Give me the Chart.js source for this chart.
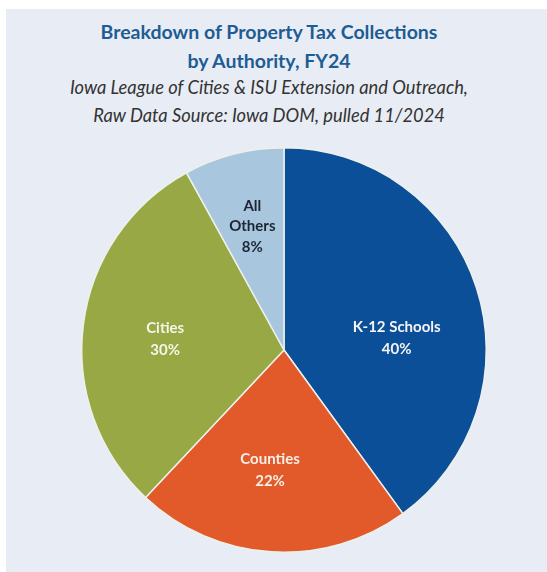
<!DOCTYPE html>
<html>
<head>
<meta charset="utf-8">
<script src="https://cdn.jsdelivr.net/npm/chart.js@4.4.1/dist/chart.umd.min.js"></script>
<style>
  html, body { margin: 0; padding: 0; background: #ffffff; }
  #panel {
    position: absolute; left: 6px; top: 9px; width: 541px; height: 563px;
    background: #e8edf5;
  }
  .head {
    position: absolute; left: 0; width: 538px; text-align: center;
    font-family: Lato, sans-serif; white-space: nowrap;
  }
  .title { color: #1e5c93; font-weight: bold; font-size: 19.5px; }
  .sub { color: #333333; font-style: italic; font-size: 18.3px; }
  #wrap { position: absolute; left: 0; top: 0; width: 547px; height: 572px; }
</style>
</head>
<body>
<div id="panel"></div>
<div class="head title" style="top:20px">Breakdown of Property Tax Collections</div>
<div class="head title" style="top:49px">by Authority, FY24</div>
<div class="head sub" style="top:76px">Iowa League of Cities &amp; ISU Extension and Outreach,</div>
<div class="head sub" style="top:104px">Raw Data Source: Iowa DOM, pulled 11/2024</div>
<div id="wrap"><canvas id="myChart"></canvas></div>
<script>
// data (percent of collections)
const categories = ['K-12 Schools', 'Counties', 'Cities', 'All Others'];
const shares = [40, 22, 30, 8];
const sliceColors = ['#0b4f98', '#e2592a', '#97a845', '#a9c6df'];

// where the in-slice labels sit: fraction of radius, and nudge in degrees
const labelRadius = [0.56, 0.60, 0.59, 0.63];
const labelShift = [12, 3, -2, 0];
const labelColors = ['#f4f4f4', '#f7efe8', '#f4f6e8', '#1d2733'];

const sliceLabels = {
    id: 'sliceLabels',
    afterDatasetsDraw(chart) {
        const c = chart.ctx;
        const meta = chart.getDatasetMeta(0);
        c.save();
        c.font = 'bold 15px Lato, sans-serif';
        c.textAlign = 'center';
        c.textBaseline = 'middle';
        meta.data.forEach((arc, i) => {
            const p = arc.getProps(['x', 'y', 'startAngle', 'endAngle', 'outerRadius']);
            const mid = (p.startAngle + p.endAngle) / 2 + labelShift[i] * Math.PI / 180;
            const r = p.outerRadius * labelRadius[i];
            const cx = p.x + Math.cos(mid) * r;
            const cy = p.y + Math.sin(mid) * r;
            // narrow slices get their name split over lines
            const name = shares[i] < 10 ? categories[i].split(' ') : [categories[i]];
            const lines = name.concat([shares[i] + '%']);
            const lh = lines.length > 2 ? 20.5 : 22;
            c.fillStyle = labelColors[i];
            lines.forEach((t, k) => {
                c.fillText(t, cx, cy + (k - (lines.length - 1) / 2) * lh);
            });
        });
        c.restore();
    }
};

const ctx = document.getElementById('myChart');

const pieChart = new Chart(ctx, {
    type: 'pie',
    data: {
        labels: categories,
        datasets: [{
            data: shares,
            backgroundColor: sliceColors,
            borderColor: '#eef0ea',
            borderWidth: 1.5
        }]
    },
    options: {
        responsive: true,
        maintainAspectRatio: false,
        animation: false,
        layout: {
            padding: { top: 147, bottom: 19, left: 61, right: 40 }
        },
        plugins: {
            legend: { display: false },
            tooltip: { enabled: false },
            title: { display: false }
        }
    },
    plugins: [sliceLabels]
});
</script>
</body>
</html>
